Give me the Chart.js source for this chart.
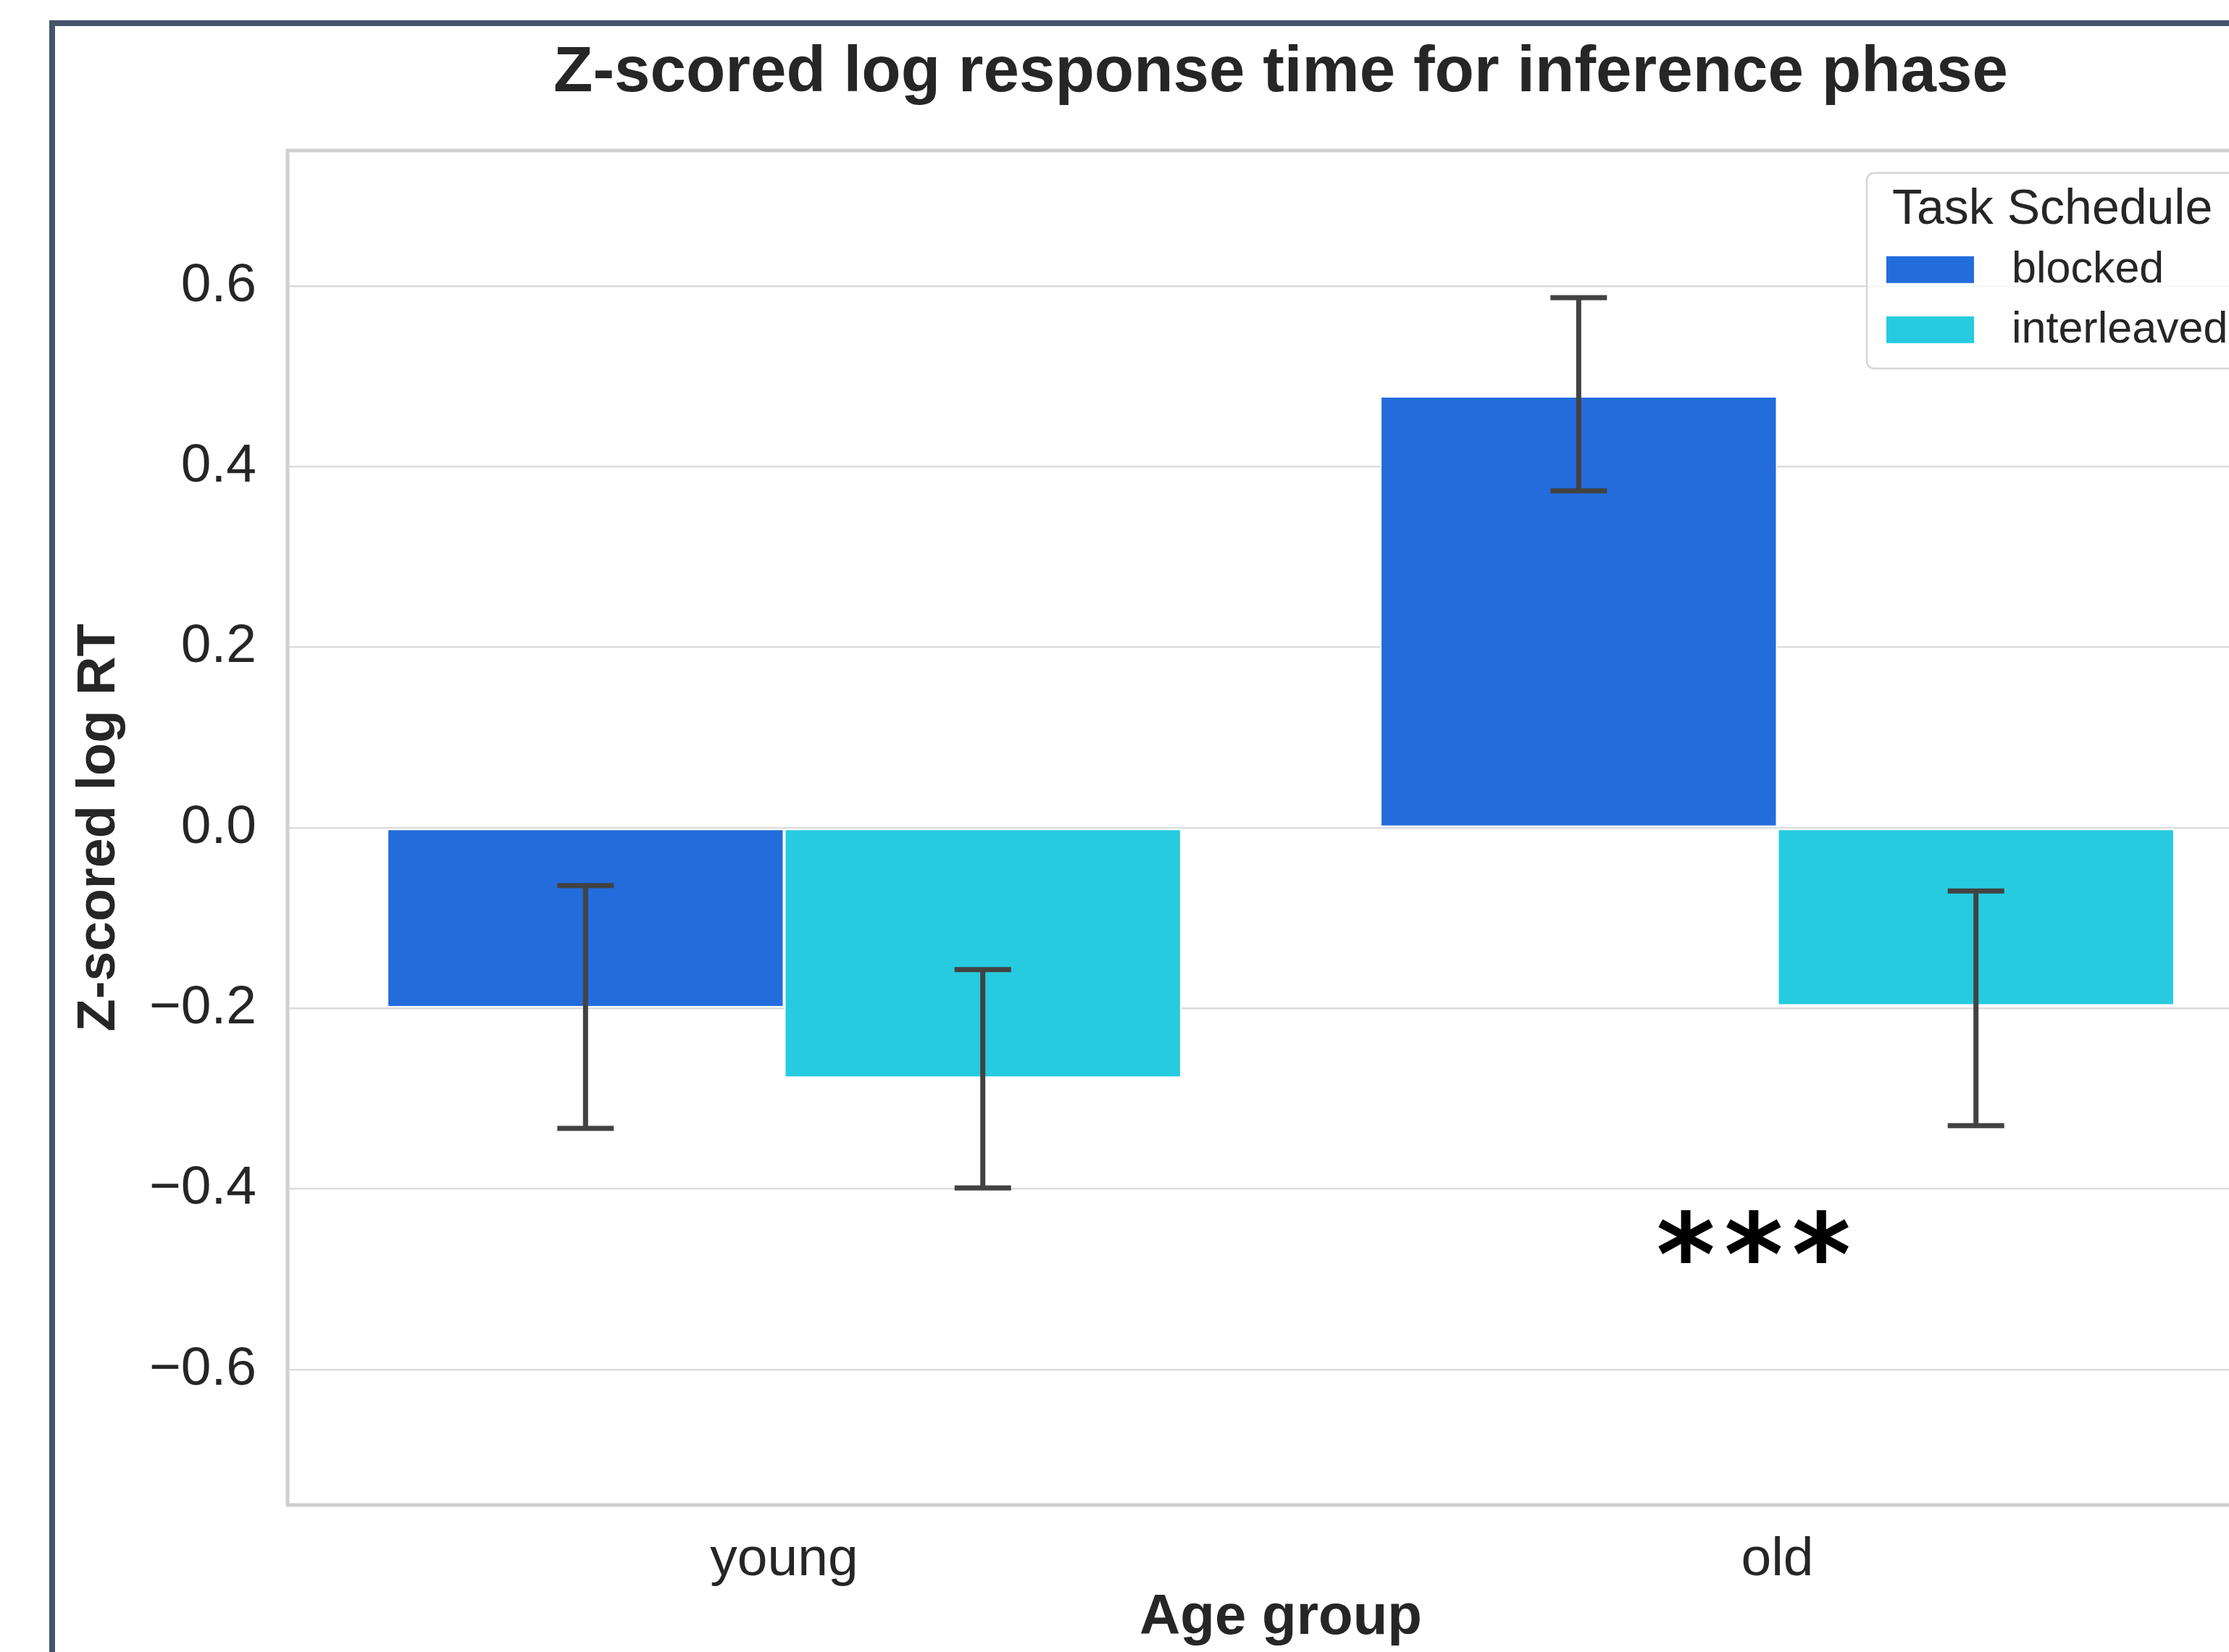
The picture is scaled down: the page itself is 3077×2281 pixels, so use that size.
<!DOCTYPE html>
<html><head><meta charset="utf-8">
<script src="https://cdn.jsdelivr.net/npm/chart.js@4.4.1/dist/chart.umd.min.js"></script>
<style>
html,body{margin:0;padding:0;background:#fff;overflow:hidden;width:3077px;height:2281px;}
#frame{position:absolute;left:68px;top:28px;width:3300px;height:2500px;border-left:8px solid #44546a;border-top:8px solid #44546a;box-sizing:border-box;pointer-events:none;z-index:2}
#c{position:absolute;left:0;top:0;}
</style></head><body>
<div id="frame"></div>
<canvas id="c" width="3200" height="2281"></canvas>
<script>
// ---- data ----
const categories = ['young', 'old'];
const seriesNames = ['blocked', 'interleaved'];
const blockedMean = [-0.199, 0.478];
const interleavedMean = [-0.277, -0.197];
const blockedCiLow = [-0.333, 0.373];
const blockedCiHigh = [-0.064, 0.587];
const interleavedCiLow = [-0.399, -0.330];
const interleavedCiHigh = [-0.157, -0.070];
const yTickValues = [-0.6, -0.4, -0.2, 0.0, 0.2, 0.4, 0.6];
const yTickLabels = ['\u22120.6', '\u22120.4', '\u22120.2', '0.0', '0.2', '0.4', '0.6'];
const titleText = 'Z-scored log response time for inference phase';
const xTitle = 'Age group';
const yTitle = 'Z-scored log RT';
const legendTitle = 'Task Schedule';
const sigLabel = '***';
const sigCategory = 'old';
const sigValue = -0.458;

// ---- styles ----
const FONT = '"Liberation Sans", Arial, sans-serif';
const TEXT = '#262626';
const colors = ['#236cdc', '#26cbdf'];
const ciLow = [blockedCiLow, interleavedCiLow];
const ciHigh = [blockedCiHigh, interleavedCiHigh];

const spinesPlugin = {
  id: 'spines',
  beforeDatasetsDraw(chart) {
    const {ctx, chartArea: a} = chart;
    ctx.save();
    ctx.strokeStyle = '#cfcfcf';
    ctx.lineWidth = 5;
    ctx.strokeRect(a.left, a.top, a.right - a.left, a.bottom - a.top);
    ctx.restore();
  }
};

const errorBarPlugin = {
  id: 'errorbars',
  afterDatasetsDraw(chart) {
    const {ctx} = chart;
    const y = chart.scales.y;
    ctx.save();
    ctx.strokeStyle = '#424242';
    ctx.lineWidth = 7;
    ctx.lineCap = 'butt';
    chart.data.datasets.forEach((ds, i) => {
      const meta = chart.getDatasetMeta(i);
      meta.data.forEach((bar, j) => {
        const x = bar.x;
        const y1 = y.getPixelForValue(ciLow[i][j]);
        const y2 = y.getPixelForValue(ciHigh[i][j]);
        const half = 39;
        ctx.beginPath();
        ctx.moveTo(x, y1); ctx.lineTo(x, y2);
        ctx.moveTo(x - half, y1); ctx.lineTo(x + half, y1);
        ctx.moveTo(x - half, y2); ctx.lineTo(x + half, y2);
        ctx.stroke();
      });
    });
    ctx.restore();
  }
};

const legendPlugin = {
  id: 'customLegend',
  afterDraw(chart) {
    const {ctx, chartArea: a} = chart;
    const left = a.right - 562, top = a.top + 31, right = a.right - 29, bottom = a.top + 301;
    ctx.save();
    ctx.beginPath();
    ctx.roundRect(left, top, right - left, bottom - top, 10);
    ctx.fillStyle = 'rgba(255,255,255,0.8)';
    ctx.fill();
    ctx.strokeStyle = '#d5d5d5';
    ctx.lineWidth = 2.5;
    ctx.stroke();
    ctx.fillStyle = TEXT;
    ctx.textBaseline = 'alphabetic';
    ctx.textAlign = 'left';
    ctx.font = '68px ' + FONT;
    ctx.fillText(legendTitle, left + 35, top + 70);
    ctx.font = '61px ' + FONT;
    chart.data.datasets.forEach((ds, i) => {
      const sy = top + 115 + i * 83;
      ctx.fillStyle = ds.backgroundColor;
      ctx.fillRect(left + 27, sy, 121, 37);
      ctx.fillStyle = TEXT;
      ctx.textBaseline = 'middle';
      ctx.fillText(ds.label, left + 200, sy + 19);
    });
    ctx.restore();
  }
};

const annotationPlugin = {
  id: 'sig',
  afterDraw(chart) {
    const {ctx} = chart;
    const xs = chart.scales.x, ys = chart.scales.y;
    const idx = categories.indexOf(sigCategory);
    const x = xs.getPixelForValue(idx) - 0.021 * (xs.getPixelForValue(1) - xs.getPixelForValue(0));
    const yy = ys.getPixelForValue(sigValue);
    ctx.save();
    ctx.fillStyle = '#000';
    ctx.font = 'bold 156px "DejaVu Sans", sans-serif';
    ctx.letterSpacing = '12px';
    ctx.textAlign = 'center';
    ctx.textBaseline = 'middle';
    ctx.fillText(sigLabel, x + 2, yy + 34);
    ctx.restore();
  }
};

new Chart(document.getElementById('c'), {
  type: 'bar',
  data: {
    labels: categories,
    datasets: [
      {label: seriesNames[0], data: blockedMean, backgroundColor: colors[0], borderColor: '#ffffff', borderWidth: 2, borderSkipped: false, categoryPercentage: 0.8, barPercentage: 1.0},
      {label: seriesNames[1], data: interleavedMean, backgroundColor: colors[1], borderColor: '#ffffff', borderWidth: 2, borderSkipped: false, categoryPercentage: 0.8, barPercentage: 1.0}
    ]
  },
  options: {
    responsive: false,
    animation: false,
    devicePixelRatio: 1,
    layout: {padding: {left: 89, right: 61, top: 0, bottom: 0}},
    plugins: {
      legend: {display: false},
      tooltip: {enabled: false},
      title: {display: true, text: titleText, fullSize: false, color: TEXT,
        font: {family: FONT, size: 89, weight: 'bold', lineHeight: 1.2},
        padding: {top: 48, bottom: 53}}
    },
    scales: {
      x: {
        type: 'category', offset: true,
        grid: {display: false, drawTicks: false},
        border: {display: false},
        ticks: {color: TEXT, font: {family: FONT, size: 75}, padding: 31},
        title: {display: true, text: xTitle, color: TEXT, font: {family: FONT, size: 78, weight: 'bold', lineHeight: 1.2}, padding: {top: 4, bottom: 0}},
        afterFit(s) { s.height = 203; }
      },
      y: {
        min: -0.75, max: 0.75,
        grid: {color: '#dcdcdc', lineWidth: 2.5, drawTicks: false},
        border: {display: false},
        afterBuildTicks(s) { s.ticks = yTickValues.map(v => ({value: v})); },
        ticks: {
          color: TEXT, font: {family: FONT, size: 75}, padding: 43,
          callback: (v) => {
            const i = yTickValues.findIndex(t => Math.abs(t - v) < 1e-9);
            return i >= 0 ? yTickLabels[i] : '';
          }
        },
        title: {display: true, text: yTitle, color: TEXT, font: {family: FONT, size: 74, weight: 'bold', lineHeight: 1.2}, padding: {top: 4, bottom: 4}},
        afterFit(s) { s.width = 308; }
      }
    }
  },
  plugins: [spinesPlugin, errorBarPlugin, legendPlugin, annotationPlugin]
});
</script>
</body></html>
